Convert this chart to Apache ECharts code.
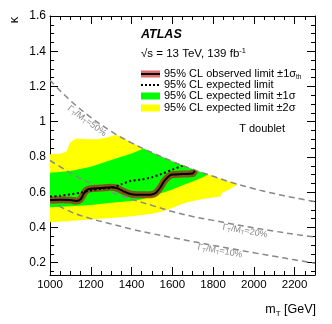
<!DOCTYPE html>
<html>
<head>
<meta charset="utf-8">
<script src="https://cdn.jsdelivr.net/npm/echarts@6/dist/echarts.min.js"></script>
<style>
html, body { margin: 0; padding: 0; background: #fff; }
#main { width: 332px; height: 324px; }
</style>
</head>
<body>
<div id="main"></div>
<script>
// Γ/M reference curves
var widthMass = [1000, 1100, 1200, 1300, 1400, 1500, 1600, 1700, 1800, 1900, 2000, 2100, 2200, 2300];
var width50 = [1.235, 1.12, 1.025, 0.945, 0.88, 0.825, 0.775, 0.73, 0.69, 0.652, 0.62, 0.592, 0.568, 0.547];
var width20 = [0.78, 0.71, 0.65, 0.60, 0.56, 0.525, 0.49, 0.462, 0.44, 0.418, 0.398, 0.379, 0.361, 0.345];
var width10 = [0.55, 0.49, 0.45, 0.42, 0.39, 0.365, 0.342, 0.32, 0.298, 0.277, 0.256, 0.236, 0.216, 0.197];

// observed limit
var obsMass = [1000, 1050, 1100, 1130, 1150, 1165, 1180, 1200, 1250, 1300, 1330, 1360, 1400, 1450, 1500, 1520, 1540, 1560, 1580, 1600, 1650, 1700, 1710];
var obsKappa = [0.555, 0.557, 0.555, 0.55, 0.56, 0.59, 0.612, 0.62, 0.624, 0.628, 0.622, 0.605, 0.588, 0.585, 0.587, 0.597, 0.625, 0.662, 0.688, 0.70, 0.703, 0.706, 0.722];

// expected limit
var expMass = [1000, 1050, 1100, 1150, 1200, 1250, 1300, 1350, 1400, 1450, 1500, 1550, 1600, 1650];
var expKappa = [0.575, 0.58, 0.588, 0.597, 0.61, 0.62, 0.625, 0.645, 0.665, 0.672, 0.685, 0.705, 0.728, 0.75];

// +-2 sigma band
var yelUpMass = [1000, 1050, 1080, 1100, 1130, 1180, 1230, 1280, 1320, 1345, 1400, 1500, 1600, 1700, 1800, 1900, 1922];
var yelUpKappa = [0.815, 0.818, 0.83, 0.885, 0.905, 0.9, 0.9, 0.91, 0.925, 0.918, 0.88, 0.825, 0.775, 0.73, 0.69, 0.652, 0.645];
var yelLoMass = [1000, 1100, 1200, 1300, 1400, 1500, 1550, 1600, 1650, 1700, 1750, 1800, 1835, 1845, 1880, 1922];
var yelLoKappa = [0.43, 0.437, 0.445, 0.453, 0.463, 0.478, 0.49, 0.51, 0.535, 0.55, 0.562, 0.57, 0.575, 0.597, 0.615, 0.645];

// +-1 sigma band
var grnUpMass = [1000, 1100, 1200, 1300, 1400, 1460, 1500, 1600, 1700, 1775];
var grnUpKappa = [0.71, 0.72, 0.745, 0.782, 0.82, 0.848, 0.825, 0.775, 0.73, 0.70];
var grnLoMass = [1000, 1100, 1200, 1300, 1400, 1450, 1500, 1550, 1600, 1650, 1700, 1750, 1775];
var grnLoKappa = [0.515, 0.52, 0.528, 0.54, 0.55, 0.56, 0.575, 0.595, 0.615, 0.64, 0.66, 0.685, 0.70];

var yTicks = [0.2, 0.4, 0.6, 0.8, 1, 1.2, 1.4, 1.6];
var yMinorTicks = [0.15, 0.25, 0.3, 0.35, 0.45, 0.5, 0.55, 0.65, 0.7, 0.75, 0.85, 0.9, 0.95,
    1.05, 1.1, 1.15, 1.25, 1.3, 1.35, 1.45, 1.5, 1.55];

var FONT = 'Liberation Sans, Arial, Helvetica, sans-serif';

function pairs(xs, ys) {
    return xs.map(function (x, i) { return [x, ys[i]]; });
}

function bandSeries(upper, lower, color) {
    return {
        type: 'custom',
        silent: true,
        data: [upper[0]],
        encode: { x: 0, y: 1 },
        renderItem: function (params, api) {
            var pts = upper.concat(lower.slice().reverse()).map(function (p) { return api.coord(p); });
            return { type: 'polygon', shape: { points: pts }, style: { fill: color } };
        }
    };
}

function dashed(ys) {
    return {
        type: 'line', data: pairs(widthMass, ys), smooth: 0.4, symbol: 'none', silent: true,
        lineStyle: { color: '#888', width: 1.5, type: [6, 4] }
    };
}

function xAx(pos, labels) {
    return {
        type: 'value', min: 1000, max: 2300, interval: 200, position: pos,
        axisLine: { show: true, lineStyle: { color: '#000', width: 1 } },
        axisTick: { show: true, inside: true, length: 8, lineStyle: { color: '#000' } },
        minorTick: { show: true, splitNumber: 4, length: 4, lineStyle: { color: '#000' } },
        axisLabel: { show: labels, showMaxLabel: false, color: '#000', fontSize: 11.5, fontFamily: FONT, margin: 4,
            formatter: function (v) { return String(v); } },
        splitLine: { show: false }
    };
}

function yAx(pos, ticks, len, labels, line) {
    return {
        type: 'value', min: 0.13, max: 1.6, position: pos,
        axisLine: { show: line, lineStyle: { color: '#000', width: 1 } },
        axisTick: { show: true, inside: true, length: len, customValues: ticks, lineStyle: { color: '#000' } },
        axisLabel: { show: labels, customValues: yTicks, color: '#000', fontSize: 12, fontFamily: FONT, margin: 4 },
        splitLine: { show: false }
    };
}

var legendRows = [74, 85, 96, 108];

var option = {
    animation: false,
    backgroundColor: '#fff',
    grid: { left: 50, right: 17, top: 16, bottom: 49 },
    xAxis: [xAx('bottom', true), xAx('top', false)],
    yAxis: [
        yAx('left', yTicks, 8, true, true),
        yAx('left', yMinorTicks, 4, false, false),
        yAx('right', yTicks, 8, false, true),
        yAx('right', yMinorTicks, 4, false, false)
    ],
    series: [
        bandSeries(pairs(yelUpMass, yelUpKappa), pairs(yelLoMass, yelLoKappa), '#ffff00'),
        bandSeries(pairs(grnUpMass, grnUpKappa), pairs(grnLoMass, grnLoKappa), '#00ff00'),
        dashed(width50),
        dashed(width20),
        dashed(width10),
        {
            type: 'line', data: pairs(obsMass, obsKappa), smooth: 0.3, symbol: 'none', silent: true,
            lineStyle: { color: 'rgba(140,70,30,0.9)', width: 7 }
        },
        {
            type: 'line', data: pairs(obsMass, obsKappa), smooth: 0.3, symbol: 'none', silent: true,
            lineStyle: { color: '#000', width: 2 }
        },
        {
            type: 'line', data: pairs(expMass, expKappa), smooth: 0.3, symbol: 'none', silent: true,
            lineStyle: { color: '#000', width: 2, type: [2, 2.5] }
        }
    ],
    graphic: { elements: [
        // axis titles
        { type: 'text', x: 14, y: 20, rotation: Math.PI / 2,
          style: { text: 'κ', font: '13px ' + FONT, fill: '#000', align: 'center', verticalAlign: 'middle' } },
        { type: 'text', x: 316, y: 310,
          style: { text: '{a|m}{s|T}{a| [GeV]}', align: 'right', verticalAlign: 'middle', fill: '#000',
            rich: { a: { fontSize: 12.5, fontFamily: FONT, lineHeight: 16 },
                    s: { fontSize: 8, fontFamily: FONT, verticalAlign: 'bottom', lineHeight: 16 } } } },
        // labels
        { type: 'text', x: 141, y: 35,
          style: { text: 'ATLAS', font: 'italic bold 12.5px ' + FONT, fill: '#000', verticalAlign: 'middle' } },
        { type: 'text', x: 141, y: 54,
          style: { text: '{a|√s = 13 TeV, 139 fb}{u|-1}', verticalAlign: 'middle', fill: '#000',
            rich: { a: { fontSize: 11.5, fontFamily: FONT, lineHeight: 14 },
                    u: { fontSize: 7.5, fontFamily: FONT, verticalAlign: 'top', lineHeight: 14 } } } },
        // legend
        { type: 'rect', shape: { x: 141, y: legendRows[0] - 3.5, width: 19, height: 7 }, style: { fill: 'rgba(220,70,70,0.8)' } },
        { type: 'line', shape: { x1: 141, y1: legendRows[0], x2: 160, y2: legendRows[0] }, style: { stroke: '#000', lineWidth: 2 } },
        { type: 'line', shape: { x1: 141, y1: legendRows[1], x2: 160, y2: legendRows[1] }, style: { stroke: '#000', lineWidth: 2, lineDash: [2, 2] } },
        { type: 'rect', shape: { x: 141, y: legendRows[2] - 3.5, width: 19, height: 7 }, style: { fill: '#00ff00' } },
        { type: 'rect', shape: { x: 141, y: legendRows[3] - 3.5, width: 19, height: 7 }, style: { fill: '#ffff00' } },
        { type: 'text', x: 164, y: legendRows[0],
          style: { text: '{a|95% CL observed limit ±1σ}{s|th}', verticalAlign: 'middle', fill: '#000',
            rich: { a: { fontSize: 11, fontFamily: FONT, lineHeight: 13 },
                    s: { fontSize: 6.5, fontFamily: FONT, verticalAlign: 'bottom', lineHeight: 13 } } } },
        { type: 'text', x: 164, y: legendRows[1],
          style: { text: '95% CL expected limit', font: '11px ' + FONT, fill: '#000', verticalAlign: 'middle' } },
        { type: 'text', x: 164, y: legendRows[2],
          style: { text: '95% CL expected limit ±1σ', font: '11px ' + FONT, fill: '#000', verticalAlign: 'middle' } },
        { type: 'text', x: 164, y: legendRows[3],
          style: { text: '95% CL expected limit ±2σ', font: '11px ' + FONT, fill: '#000', verticalAlign: 'middle' } },
        { type: 'text', x: 285, y: 129,
          style: { text: 'T doublet', font: '11px ' + FONT, fill: '#000', align: 'right', verticalAlign: 'middle' } },
        // width curve labels
        { type: 'text', x: 87, y: 121, rotation: -36 * Math.PI / 180,
          style: { text: '{a|Γ}{s|T}{a|/M}{s|T}{a|=50%}', align: 'center', verticalAlign: 'middle', fill: '#888',
            rich: { a: { fontSize: 9, fontFamily: FONT, lineHeight: 11, fill: '#888' }, s: { fontSize: 6, fontFamily: FONT, verticalAlign: 'bottom', lineHeight: 11, fill: '#888' } } } },
        { type: 'text', x: 245, y: 231, rotation: -10 * Math.PI / 180,
          style: { text: '{a|Γ}{s|T}{a|/M}{s|T}{a|=20%}', align: 'center', verticalAlign: 'middle', fill: '#888',
            rich: { a: { fontSize: 9, fontFamily: FONT, lineHeight: 11, fill: '#888' }, s: { fontSize: 6, fontFamily: FONT, verticalAlign: 'bottom', lineHeight: 11, fill: '#888' } } } },
        { type: 'text', x: 220, y: 251, rotation: -10 * Math.PI / 180,
          style: { text: '{a|Γ}{s|T}{a|/M}{s|T}{a|=10%}', align: 'center', verticalAlign: 'middle', fill: '#888',
            rich: { a: { fontSize: 9, fontFamily: FONT, lineHeight: 11, fill: '#888' }, s: { fontSize: 6, fontFamily: FONT, verticalAlign: 'bottom', lineHeight: 11, fill: '#888' } } } }
    ] }
};

var chart = echarts.init(document.getElementById('main'));
chart.setOption(option);
</script>
</body>
</html>
